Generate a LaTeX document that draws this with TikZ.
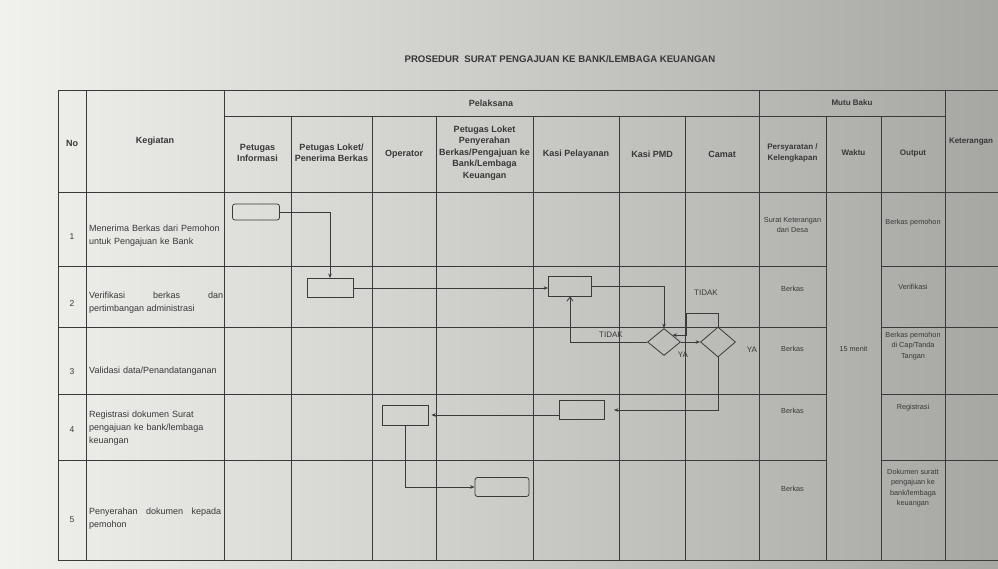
\documentclass[tikz,border=0pt]{standalone}
\usepackage{fontspec}
\setmainfont{Liberation Sans}
\usetikzlibrary{arrows.meta,positioning,shapes.geometric}
\definecolor{paperlight}{HTML}{F1F1EE}
\definecolor{paperdark}{HTML}{A6A6A2}
\definecolor{ink}{HTML}{3A3A3A}
\definecolor{txt}{HTML}{383838}
\newcommand{\RowLine}[1]{%
  \draw[tabline] (58,#1) -- (826,#1);
  \draw[tabline] (881,#1) -- (998,#1);
}

\begin{document}
\begin{tikzpicture}[x=1pt,y=-1pt,
  tabline/.style={draw=ink,line width=0.6pt},
  head/.style={font=\fontsize{9}{11.5}\selectfont\bfseries,text=txt,align=center,inner sep=0pt},
  mutuhead/.style={head,font=\fontsize{8}{10.5}\selectfont\bfseries},
  cell/.style={font=\fontsize{9}{13}\selectfont,text=txt,align=left,text width=134pt,inner sep=0pt,anchor=west},
  mututext/.style={font=\fontsize{7.3}{10.5}\selectfont,text=txt,align=center,inner sep=0pt},
  proc/.style={draw=ink,line width=0.8pt,minimum width=46pt,minimum height=19pt,inner sep=0pt},
  term/.style={proc,rounded corners=2.5pt},
  decide/.style={draw=ink,line width=0.8pt,diamond,minimum width=33pt,minimum height=27pt,inner sep=0pt},
  flow/.style={draw=ink,line width=0.8pt,-{Stealth[length=4.5pt,width=3.5pt]}},
  backflow/.style={draw=ink,line width=0.8pt,-{Straight Barb[length=4pt,width=6pt]}},
  lbl/.style={font=\fontsize{8}{9}\selectfont,text=txt,inner sep=0pt}]
  \useasboundingbox (0,0) rectangle (998,568);
  \shade[left color=paperlight,right color=paperdark] (0,0) rectangle (998,568);
  \node[font=\fontsize{9.6}{11}\selectfont\bfseries,text=txt] (title) at (560,59)
    {PROSEDUR\ \ SURAT PENGAJUAN KE BANK/LEMBAGA KEUANGAN};

  % table lines
  \draw[tabline] (58,90) -- (998,90);
  \draw[tabline] (224,116) -- (945,116);
  \draw[tabline] (58,192) -- (998,192);
  \foreach \y in {266,327,394,460} {\RowLine{\y}}
  \draw[tabline] (58,560) -- (998,560);
  \foreach \x in {58,86,224,759,945} {\draw[tabline] (\x,90) -- (\x,560);}
  \foreach \x in {291,372,436,533,619,685,826,881} {\draw[tabline] (\x,116) -- (\x,560);}

  % header
  \node[head] (hNo) at (72,143) {No};
  \node[head] (hKeg) at (155,141) {Kegiatan};
  \node[head] (hPel) at (491,103) {Pelaksana};
  \node[mutuhead] (hMutu) at (852,103) {Mutu Baku};
  \node[head] (hInfo) at (257.5,153) {Petugas\\Informasi};
  \node[head] (hLoket) at (331.5,153) {Petugas Loket/\\Penerima Berkas};
  \node[head] (hOp) at (404,154) {Operator};
  \node[head] (hSerah) at (484.5,153) {Petugas Loket\\Penyerahan\\Berkas/Pengajuan ke\\Bank/Lembaga\\Keuangan};
  \node[head] (hPelay) at (576,154) {Kasi Pelayanan};
  \node[head] (hPmd) at (652,154) {Kasi PMD};
  \node[head] (hCamat) at (722,154) {Camat};
  \node[mutuhead] (hSyarat) at (792.5,153) {Persyaratan /\\Kelengkapan};
  \node[mutuhead] (hWaktu) at (853.5,153) {Waktu};
  \node[mutuhead] (hOut) at (913,154) {Output};
  \node[mutuhead] (hKet) at (971,142) {Keterangan};

  % kegiatan
  \node[head,font=\fontsize{8.5}{10}\selectfont] (n1) at (72,237) {1};
  \node[head,font=\fontsize{8.5}{10}\selectfont] (n2) at (72,304) {2};
  \node[head,font=\fontsize{8.5}{10}\selectfont] (n3) at (72,372) {3};
  \node[head,font=\fontsize{8.5}{10}\selectfont] (n4) at (72,430) {4};
  \node[head,font=\fontsize{8.5}{10}\selectfont] (n5) at (72,520) {5};
  \node[cell] (k1) at (89,236) {Menerima Berkas dari Pemohon\\untuk Pengajuan ke Bank};
  \node[cell,align=justify] (k2) at (89,303) {Verifikasi berkas dan\linebreak pertimbangan administrasi};
  \node[cell] (k3) at (89,371) {Validasi data/Penandatanganan};
  \node[cell] (k4) at (89,428) {Registrasi dokumen Surat\\pengajuan ke bank/lembaga\\keuangan};
  \node[cell,align=justify,text width=132pt] (k5) at (89,519) {Penyerahan dokumen kepada\linebreak pemohon};

  % mutu baku
  \node[mututext] (s1) at (792.5,225) {Surat Keterangan\\dari Desa};
  \node[mututext] (s2) at (792.5,289) {Berkas};
  \node[mututext] (s3) at (792.5,349) {Berkas};
  \node[mututext] (s4) at (792.5,411) {Berkas};
  \node[mututext] (s5) at (792.5,489) {Berkas};
  \node[mututext] (w1) at (853.5,349) {15 menit};
  \node[mututext] (o1) at (913,223) {Berkas pemohon};
  \node[mututext] (o2) at (913,287) {Verifikasi};
  \node[mututext] (o3) at (913,346) {Berkas pemohon\\di Cap/Tanda\\Tangan};
  \node[mututext] (o4) at (913,408) {Registrasi};
  \node[mututext] (o5) at (913,488) {Dokumen suratt\\pengajuan ke\\bank/lembaga\\keuangan};

  % flow
  \node[term,minimum width=47pt,minimum height=16pt] (terima) at (256,212) {};
  \node[proc] (verif) at (330,288) {};
  \node[proc,minimum width=43pt,minimum height=20pt] (pelay) at (570,286) {};
  \node[decide] (cekPmd) at (664,342) {};
  \node[decide,minimum width=35pt,minimum height=30pt] (cekCamat) at (718,342) {};
  \node[proc,minimum width=45pt] (kembali) at (582,410) {};
  \node[proc,minimum height=20pt] (registrasi) at (405,415) {};
  \node[term,minimum width=54pt] (serah) at (502,487) {};
  \coordinate (loop) at (686,313);

  \draw[flow] (terima.east) -| (verif.north);
  \draw[flow] (verif.east) -- (verif.east -| pelay.west);
  \draw[flow] (pelay.east) -| (cekPmd.north);
  \draw[backflow] (cekPmd.west) -| (pelay.south);
  \draw[flow] (cekPmd.east) -- (cekCamat.west);
  \draw[flow] (cekCamat.north) |- (loop) |- (cekPmd.north east);
  \draw[flow,shorten >=9pt] (cekCamat.south) |- (kembali.east);
  \draw[flow,shorten >=3pt] (kembali.west |- registrasi.east) -- (registrasi.east);
  \draw[flow] (registrasi.south) |- (serah.west);

  \node[lbl] (tidak1) at (611,335) {TIDAK};
  \node[lbl] (tidak2) at (706,293) {TIDAK};
  \node[lbl] (ya1) at (683,355) {YA};
  \node[lbl] (ya2) at (752,350) {YA};
\end{tikzpicture}
\end{document}
